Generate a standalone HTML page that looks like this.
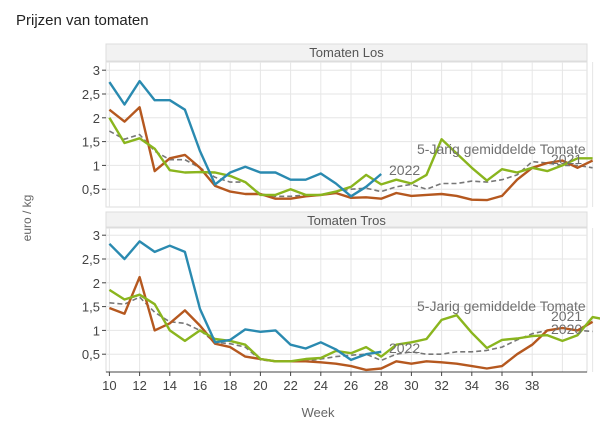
<!DOCTYPE html><html><head><style>body{margin:0;background:#fff}svg{font-family:"Liberation Sans",sans-serif}</style></head><body>
<svg id="s" width="600" height="439" xmlns="http://www.w3.org/2000/svg">
<text x="16" y="25" font-size="15" fill="#222">Prijzen van tomaten</text>
<text transform="translate(31,218) rotate(-90)" font-size="12" fill="#666" text-anchor="middle">euro / kg</text>
<text x="318" y="417" font-size="13" fill="#666" text-anchor="middle">Week</text>
</svg>
<script>
const s=document.getElementById('s');const NS='http://www.w3.org/2000/svg';
function el(t,a,txt){const e=document.createElementNS(NS,t);for(const k in a)e.setAttribute(k,a[k]);if(txt)e.textContent=txt;s.appendChild(e);return e;}
const L=106,R=587;const X=w=>109.4+15.1*(w-10);
const panels=[{st:44,top:62,bot:207,b:213,name:"Tomaten Los",
blue:[2.75,2.28,2.77,2.37,2.37,2.17,1.3,0.6,0.85,0.97,0.85,0.85,0.7,0.7,0.83,0.62,0.35,0.55,0.82],
orange:[2.17,1.92,2.22,0.88,1.15,1.22,0.95,0.57,0.45,0.4,0.4,0.3,0.3,0.35,0.38,0.42,0.32,0.33,0.3,0.42,0.36,0.38,0.4,0.36,0.28,0.27,0.36,0.7,0.95,1.05,1.1,0.95,1.1],
green:[2.0,1.47,1.57,1.35,0.9,0.85,0.86,0.85,0.78,0.65,0.38,0.38,0.5,0.38,0.38,0.45,0.55,0.8,0.6,0.7,0.62,0.8,1.55,1.25,0.95,0.68,0.92,0.85,0.95,0.88,1.0,1.15,1.15],
dash:[1.72,1.55,1.65,1.3,1.12,1.12,0.95,0.75,0.65,0.65,0.4,0.35,0.35,0.38,0.38,0.45,0.5,0.52,0.45,0.55,0.6,0.5,0.62,0.62,0.67,0.65,0.7,0.8,1.08,1.05,1.0,1.0,0.95],
labs:[["5-Jarig gemiddelde Tomate",417,154],["2021",551,164],["2022",389,175]]},
{st:212,top:228,bot:372,b:378,name:"Tomaten Tros",
blue:[2.82,2.5,2.87,2.65,2.78,2.65,1.45,0.75,0.8,1.02,0.97,1.0,0.7,0.62,0.75,0.6,0.38,0.5,0.55],
orange:[1.47,1.35,2.12,1.0,1.15,1.42,1.1,0.72,0.65,0.45,0.4,0.35,0.35,0.35,0.33,0.3,0.25,0.17,0.2,0.35,0.3,0.35,0.33,0.3,0.25,0.2,0.25,0.5,0.7,1.0,1.05,1.0,1.18],
green:[1.85,1.65,1.75,1.55,1.0,0.78,1.0,0.82,0.78,0.7,0.4,0.35,0.35,0.4,0.42,0.57,0.52,0.65,0.45,0.7,0.75,0.82,1.22,1.32,0.95,0.63,0.8,0.83,0.88,0.9,0.78,0.9,1.28,1.22],
dash:[1.58,1.55,1.7,1.38,1.18,1.15,1.0,0.75,0.72,0.65,0.38,0.35,0.35,0.35,0.4,0.45,0.48,0.5,0.37,0.5,0.55,0.5,0.5,0.55,0.55,0.58,0.65,0.8,0.93,1.0,1.05,1.0,0.98],
labs:[["5-Jarig gemiddelde Tomate",417,311],["2021",551,321],["2020",551,334],["2022",389,353]]}];
for(const p of panels){
 el('rect',{x:L,y:p.st,width:R-L,height:p.top-p.st-1,fill:'#f2f2f2',stroke:'#ddd'});
 el('text',{x:(L+R)/2,y:p.st+13,'font-size':13,fill:'#555','text-anchor':'middle'},p.name);
 el('rect',{x:L,y:p.top,width:R-L,height:p.bot-p.top,fill:'#fff',stroke:'#ddd'});
 const Y=v=>p.b-47.6*v;
 for(let w=10;w<=42;w+=2){el('line',{x1:X(w),x2:X(w),y1:p.top,y2:p.bot,stroke:'#e6e6e6'});}
 for(let v=0.5;v<=3;v+=0.5){el('line',{x1:L,x2:R,y1:Y(v),y2:Y(v),stroke:'#e6e6e6'});
  el('text',{x:100,y:Y(v)+5,'font-size':13,fill:'#444','text-anchor':'end'},String(v).replace('.',','));
  el('line',{x1:102,x2:106,y1:Y(v),y2:Y(v),stroke:'#444'});}
 const pl=(d,c,extra)=>el('polyline',Object.assign({points:d.map((v,i)=>X(10+i).toFixed(1)+','+Y(v).toFixed(1)).join(' '),fill:'none',stroke:c,'stroke-width':2.4,'stroke-linejoin':'round'},extra||{}));
 pl(p.dash,'#777',{'stroke-width':1.6,'stroke-dasharray':'5,3'});
 pl(p.orange,'#b5581f');pl(p.green,'#8ab51e');pl(p.blue,'#2a8ab0');
 for(const l of p.labs)el('text',{x:l[1],y:l[2],'font-size':14,fill:'#707070'},l[0]);
}
el('line',{x1:L,x2:R,y1:372,y2:372,stroke:'#444'});
for(let w=10;w<=38;w+=2){el('line',{x1:X(w),x2:X(w),y1:372,y2:376,stroke:'#444'});
 el('text',{x:X(w),y:390,'font-size':13,fill:'#444','text-anchor':'middle'},w);}
</script></body></html>
